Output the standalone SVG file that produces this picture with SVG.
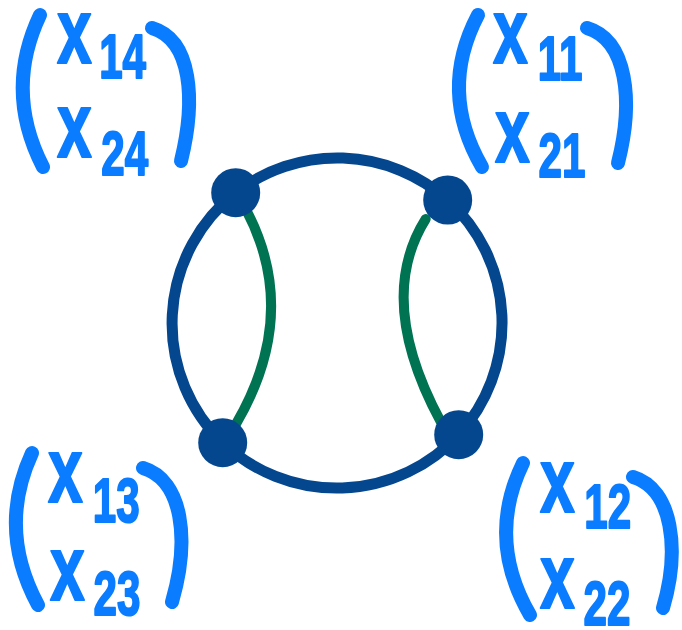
<svg xmlns="http://www.w3.org/2000/svg" width="682" height="630" viewBox="0 0 682 630">
<style>
.edge{fill:none;stroke:#04478f;stroke-width:11}
.green{fill:none;stroke:#007352;stroke-width:10;stroke-linecap:round}
.node{fill:#04478f}
.br{fill:none;stroke:#0a7cff;stroke-width:14;stroke-linecap:round}
.lbl{fill:#0a7cff;stroke:#0a7cff;stroke-width:2;stroke-linejoin:round;font-family:"Liberation Sans",Arial,sans-serif;font-weight:bold}
.x{font-size:92px}
.sub{font-size:62px}
</style>
<rect width="682" height="630" fill="#ffffff"/>
<g id="connectors">
<path class="edge" d="M235.7,192.7 A166,166 0 0 1 447.7,200"/>
<path class="edge" d="M447.7,200 A166,166 0 0 1 458.7,434.7"/>
<path class="edge" d="M458.7,434.7 A166,166 0 0 1 222.7,442.7"/>
<path class="edge" d="M222.7,442.7 A166,166 0 0 1 235.7,192.7"/>
<path class="green" d="M245.7,209 Q301,313 236,424"/>
<path class="green" d="M425.7,219 Q375,300 440.7,421.7"/>
</g>
<g id="node-tl"><circle class="node" cx="235.7" cy="192.7" r="24.5"/></g>
<g id="node-tr"><circle class="node" cx="447.7" cy="200" r="24.5"/></g>
<g id="node-bl"><circle class="node" cx="222.7" cy="442.7" r="24.5"/></g>
<g id="node-br"><circle class="node" cx="458.7" cy="434.7" r="24.5"/></g>
<g id="label-tl">
<path class="br" d="M40,15 Q4,91 43,167"/>
<path class="br" d="M152,28 C192,40 196,100 181,161"/>
<text class="lbl" transform="translate(57,63) scale(0.68,1)"><tspan class="x" x="0" y="0">x</tspan><tspan class="sub" x="62" y="15">14</tspan></text>
<text class="lbl" transform="translate(57,157) scale(0.68,1)"><tspan class="x" x="0" y="0">x</tspan><tspan class="sub" x="65" y="18">24</tspan></text>
</g>
<g id="label-tr">
<path class="br" d="M478,15 Q438,91 482,167"/>
<path class="br" d="M587,28 C627,40 634,100 618,163"/>
<text class="lbl" transform="translate(493,63) scale(0.68,1)"><tspan class="x" x="0" y="0">x</tspan><tspan class="sub" x="66" y="17">11</tspan></text>
<text class="lbl" transform="translate(495,162) scale(0.68,1)"><tspan class="x" x="0" y="0">x</tspan><tspan class="sub" x="64" y="15">21</tspan></text>
</g>
<g id="label-bl">
<path class="br" d="M32,453 Q-3,529 38,605"/>
<path class="br" d="M143,468 C183,480 190,540 172,602"/>
<text class="lbl" transform="translate(48,502) scale(0.68,1)"><tspan class="x" x="0" y="0">x</tspan><tspan class="sub" x="66" y="20">13</tspan></text>
<text class="lbl" transform="translate(50,600) scale(0.68,1)"><tspan class="x" x="0" y="0">x</tspan><tspan class="sub" x="64" y="15">23</tspan></text>
</g>
<g id="label-br">
<path class="br" d="M523,463 Q486,539 530,615"/>
<path class="br" d="M633,477 C673,489 680,550 663,608"/>
<text class="lbl" transform="translate(540,512) scale(0.68,1)"><tspan class="x" x="0" y="0">x</tspan><tspan class="sub" x="65" y="16">12</tspan></text>
<text class="lbl" transform="translate(540,608) scale(0.68,1)"><tspan class="x" x="0" y="0">x</tspan><tspan class="sub" x="64" y="17">22</tspan></text>
</g>
</svg>
